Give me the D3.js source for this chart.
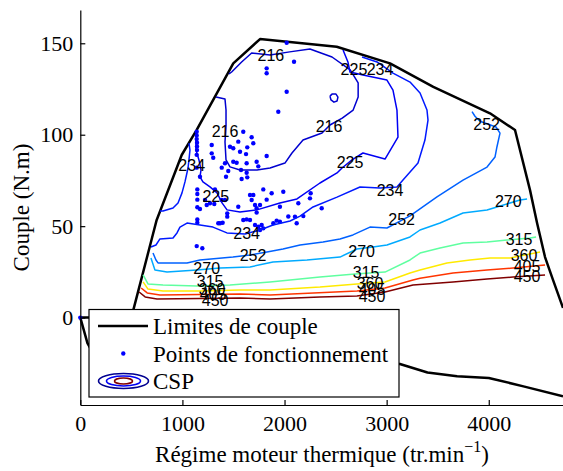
<!DOCTYPE html>
<html>
<head>
<meta charset="utf-8">
<script src="https://cdn.jsdelivr.net/npm/d3@7"></script>
<style>
  html, body { margin: 0; padding: 0; background: #fff; }
  svg { display: block; }
  .axis text { font-family: "Liberation Serif", "Times New Roman", serif; font-size: 22px; fill: #000; }
  .axis path, .axis line { stroke: #000; stroke-width: 1.2; }
</style>
</head>
<body>
<div id="chart"></div>
<script>
// torque limits (rpm, N.m)
const maxTorqueRpm = [0, 500, 702, 748, 993, 1140, 1498, 1760, 2511, 3033, 3457, 4012, 4257, 4404, 4473, 4551, 4629, 4727];
const maxTorqueNm  = [0, 0, 43.5, 53.4, 88.9, 102.6, 139.0, 152.3, 148.1, 139.0, 126.2, 111.7, 102.6, 69.7, 51.7, 33.1, 20.6, 5.3];
const minTorqueRpm = [0, 70, 130, 1000, 2000, 3130, 3400, 3690, 4000, 4340, 4727];
const minTorqueNm  = [0, -14, -20, -21, -23, -25.4, -30, -32.1, -33, -37.6, -43];

// operating points [rpm, N.m]
const operatingPoints = [
  [0,0],
  [2021,150.3],[2093,139.9],[1825,136.3],[1825,133.6],[2021,123.5],[1939,112.6],
  [1140,101.6],[1140,99.6],[1140,97.6],[1143,95.6],[1143,93.6],[1143,91.6],[1140,89.0],[1140,82.0],
  [1287,94.4],[1287,89.8],[1302,87.4],
  [1466,93.4],[1498,92.6],[1547,96.2],[1596,101.6],[1678,98.6],[1635,93.1],[1694,95.3],[1564,90.7],[1623,89.4],[1825,88.4],
  [1498,85.2],[1531,84.7],[1417,84.4],[1629,84.4],[1727,85.2],[1743,82.7],
  [1385,82.0],[1449,80.2],[1574,80.7],[1629,79.2],[1427,77.0],[1580,75.8],[1635,76.7],[1172,77.0],
  [1146,70.1],[1146,67.6],[1146,64.5],[1146,60.3],
  [1221,64.3],[1238,61.6],[1172,59.4],[1270,62.5],[1312,62.1],[1319,70.1],
  [1385,64.3],[1417,64.3],[1547,60.6],
  [1662,67.0],[1694,67.0],[1678,64.3],[1711,61.6],[1727,59.8],[1760,61.6],[1825,64.5],
  [1792,70.1],[1874,68.0],[1988,68.8],[1955,60.6],[1727,57.4],
  [1439,57.0],[1439,55.2],[1629,53.7],[1662,53.4],[1394,51.9],[1368,51.6],[1596,53.4],
  [1923,53.0],[2037,55.3],[2102,55.2],[2184,55.5],
  [1146,53.7],[1146,51.9],
  [2256,68.0],[2249,65.2],[2135,62.5],[2364,59.8],[2119,51.6],
  [1711,50.6],[1743,49.7],[1760,47.9],[1792,48.8],[1776,50.6],[1890,51.6],[1955,52.4],
  [1351,51.6],[1140,39.1],[1195,37.9]
];

// CSP iso-lines (g/kWh), points [rpm, N.m]
const csp216 = [[1456,133.2],[1482,134.3],[1580,139.8],[1678,144.7],[1858,143.6],[2050,145.3],[2249,146.9],[2465,142.5],[2643,135.4],[2721,128.3],[2721,120.6],[2672,113.5],[2565,109.1],[2445,105.3],[2367,100.9],[2181,97.1],[2073,90.0],[2004,84.5],[1858,81.8],[1730,80.7],[1564,80.7],[1466,82.4],[1427,86.2],[1417,96.0],[1427,105.3],[1427,113.5],[1417,119.5],[1329,120.6]];
const csp216b = [[2445,121.1],[2465,122.2],[2504,122.2],[2523,120.6],[2514,118.4],[2484,117.8],[2455,119.0],[2445,121.1]];
const csp225 = [[2573,146.3],[2621,139.8],[2641,134.3],[2768,132.6],[3003,129.9],[3062,124.4],[3101,113.5],[3111,98.7],[2984,86.7],[2768,90.0],[2661,86.2],[2563,81.8],[2514,79.1],[2347,73.6],[2122,64.9],[1955,62.7],[1730,58.9],[1564,57.8],[1437,58.9],[1388,62.7],[1339,68.2],[1270,71.5],[1201,74.2],[1172,76.9],[1182,80.7],[1162,86.2],[1133,91.6],[1133,97.1],[1143,102.0]];
const csp234 = [[692,38.6],[741,39.7],[780,43.0],[908,43.5],[947,46.3],[976,49.5],[1045,51.7],[1172,50.6],[1299,49.5],[1436,46.3],[1613,45.7],[1760,47.9],[1887,50.6],[2054,52.8],[2152,55.5],[2279,60.5],[2514,65.9],[2739,71.4],[2935,70.9],[3101,71.4],[3160,75.2],[3307,84.5],[3375,97.1],[3405,108.0],[3395,113.5],[3327,122.8],[3229,128.8],[3062,133.7],[2906,139.8],[2759,142.5]];
const csp234b = [[780,58.3],[810,58.3],[908,59.9],[957,62.7],[996,68.2],[1025,74.2],[1055,81.8],[1064,86.2],[1074,91.6],[1064,95.4]];
const csp252 = [[712,35.3],[741,31.5],[761,29.9],[1045,29.9],[1172,31.5],[1495,33.1],[1662,34.2],[1828,35.9],[1985,37.5],[2152,39.7],[2377,41.3],[2543,43.0],[2670,45.2],[2837,49.5],[3003,49.0],[3229,55.6],[3493,66.0],[3748,75.2],[3983,82.3],[4061,87.8],[4080,93.3],[4110,100.9],[4071,104.2],[3914,107.4],[3865,110.1],[3836,112.6]];
const csp270 = [[692,32.6],[731,26.0],[849,24.9],[1143,26.0],[1368,27.1],[1662,27.7],[1887,30.4],[2220,31.5],[2543,33.1],[2709,37.5],[2866,38.6],[3003,39.7],[3229,44.1],[3327,47.9],[3523,51.7],[3748,57.2],[3983,58.8],[4080,60.5],[4306,64.3],[4375,64.8]];
const csp315 = [[615,23.3],[663,18.4],[810,17.8],[1143,17.3],[1466,17.8],[1858,19.5],[2347,22.2],[2690,23.8],[2984,24.9],[3229,31.5],[3327,35.3],[3523,38.1],[3748,40.8],[3983,41.3],[4179,42.4],[4404,43.5],[4463,44.1]];
const csp360 = [[615,19.5],[663,15.6],[810,14.5],[1172,14.5],[1564,15.1],[1858,15.1],[2347,16.7],[2709,18.4],[2984,19.5],[3229,24.4],[3327,26.0],[3591,29.9],[3816,31.5],[4012,32.6],[4208,32.6],[4502,35.9]];
const csp405 = [[596,16.2],[655,13.5],[780,12.4],[1564,12.9],[1858,12.4],[2709,14.5],[2984,16.2],[3258,20.6],[3327,21.5],[3650,24.4],[3983,26.0],[4238,27.1],[4551,28.8]];
const csp450 = [[576,14.0],[635,11.3],[751,10.2],[1172,10.4],[1564,10.7],[1858,10.2],[2347,11.3],[2709,11.8],[2984,14.0],[3258,17.8],[3650,19.5],[3983,21.1],[4238,22.2],[4551,23.3]];

const cspLines = [
  {level: 216, pts: csp216}, {level: 216, pts: csp216b},
  {level: 225, pts: csp225},
  {level: 234, pts: csp234}, {level: 234, pts: csp234b},
  {level: 252, pts: csp252}, {level: 270, pts: csp270},
  {level: 315, pts: csp315}, {level: 360, pts: csp360},
  {level: 405, pts: csp405}, {level: 450, pts: csp450}
];

// contour labels
const labelLevel = [216, 216, 216, 225, 234, 225, 225, 234, 234, 234, 252, 252, 252, 270, 270, 270, 315, 360, 405, 450, 315, 360, 405, 450, 315, 360, 405, 450];
const labelRpm   = [1866, 1417, 2436, 2680, 2935, 2641, 1327, 1091, 3033, 1629, 1691, 3147, 3979, 1238, 2755, 4191, 1271, 1290, 1300, 1320, 2798, 2837, 2857, 2857, 4296, 4345, 4375, 4375];
const labelNm    = [143.5, 101.6, 104.4, 135.4, 135.4, 84.7, 66.1, 83.4, 69.4, 46.0, 34.2, 53.7, 105.7, 27.0, 36.0, 63.4, 19.5, 15.6, 12.4, 9.6, 24.4, 18.9, 15.1, 11.8, 42.9, 34.2, 27.7, 22.2];

const xTicks = [0, 1000, 2000, 3000, 4000];
const yTicks = [0, 50, 100, 150];

const W = 563, H = 471;

const svg = d3.select("#chart").append("svg")
  .attr("width", W)
  .attr("height", H);

const x = d3.scaleLinear().domain([0, 4727]).range([80.3, 563]);
const y = d3.scaleLinear().domain([-47.8, 168.2]).range([405, 10]);

// matlab jet colormap
function jet(v) {
  const t = (v - 196) / (450 - 196);
  const c = a => Math.max(0, Math.min(1, a));
  const r = c(Math.min(4 * t - 1.5, -4 * t + 4.5));
  const g = c(Math.min(4 * t - 0.5, -4 * t + 3.5));
  const b = c(Math.min(4 * t + 0.5, -4 * t + 2.5));
  return d3.rgb(r * 255, g * 255, b * 255).formatHex();
}

const line = d3.line().x(d => x(d[0])).y(d => y(d[1]));

// limits
svg.append("path")
  .datum(d3.zip(maxTorqueRpm, maxTorqueNm))
  .attr("fill", "none").attr("stroke", "#000").attr("stroke-width", 2.5)
  .attr("stroke-linejoin", "round")
  .attr("d", line);
svg.append("path")
  .datum(d3.zip(minTorqueRpm, minTorqueNm))
  .attr("fill", "none").attr("stroke", "#000").attr("stroke-width", 2.5)
  .attr("stroke-linejoin", "round")
  .attr("d", line);

// points
svg.append("g").selectAll("circle")
  .data(operatingPoints)
  .join("circle")
  .attr("cx", d => x(d[0]))
  .attr("cy", d => y(d[1]))
  .attr("r", 2.2)
  .attr("fill", "#0000ff");

// contours
svg.append("g").selectAll("path")
  .data(cspLines)
  .join("path")
  .attr("fill", "none")
  .attr("stroke", d => jet(d.level))
  .attr("stroke-width", 1.5)
  .attr("stroke-linejoin", "round")
  .attr("d", d => line(d.pts));

// contour labels
svg.append("g").selectAll("text")
  .data(labelLevel.map((l, i) => ({l, rpm: labelRpm[i], nm: labelNm[i]})))
  .join("text")
  .attr("x", d => x(d.rpm))
  .attr("y", d => y(d.nm))
  .attr("text-anchor", "middle")
  .attr("dominant-baseline", "central")
  .attr("font-family", "'Liberation Sans', Arial, sans-serif")
  .attr("font-size", 16)
  .attr("fill", "#000")
  .text(d => d.l);

// axes
svg.append("g")
  .attr("class", "axis")
  .attr("transform", `translate(0,405)`)
  .call(d3.axisBottom(x).tickValues(xTicks).tickFormat(d3.format("d"))
    .tickSizeInner(-5).tickSizeOuter(0).tickPadding(10));

svg.append("g")
  .attr("class", "axis")
  .attr("transform", `translate(80.3,0)`)
  .call(d3.axisLeft(y).tickValues(yTicks).tickFormat(d3.format("d"))
    .tickSizeInner(-5).tickSizeOuter(0).tickPadding(7));

// axis titles
const xt = svg.append("text")
  .attr("x", 322).attr("y", 462)
  .attr("text-anchor", "middle")
  .attr("font-family", "'Liberation Serif', 'Times New Roman', serif")
  .attr("font-size", 23);
xt.append("tspan").text("Régime moteur thermique (tr.min");
xt.append("tspan").attr("dy", -10).attr("font-size", 16).text("\u22121");
xt.append("tspan").attr("dy", 10).text(")");

svg.append("text")
  .attr("transform", "translate(29,207.5) rotate(-90)")
  .attr("text-anchor", "middle")
  .attr("font-family", "'Liberation Serif', 'Times New Roman', serif")
  .attr("font-size", 23)
  .text("Couple (N.m)");

// legend
const lg = svg.append("g");
lg.append("rect")
  .attr("x", 89).attr("y", 309.5).attr("width", 310).attr("height", 87.5)
  .attr("fill", "#fff").attr("stroke", "#000").attr("stroke-width", 1.2);

const legendItems = ["Limites de couple", "Points de fonctionnement", "CSP"];
const legendY = [326, 353.5, 381];

lg.append("line")
  .attr("x1", 98).attr("x2", 148).attr("y1", legendY[0]).attr("y2", legendY[0])
  .attr("stroke", "#000").attr("stroke-width", 2.5);
lg.append("circle")
  .attr("cx", 123.3).attr("cy", legendY[1]).attr("r", 2.2).attr("fill", "#0000ff");
[[25, 7.5, 200], [17, 5, 225], [9, 3, 450]].forEach(e => {
  lg.append("ellipse")
    .attr("cx", 123.5).attr("cy", legendY[2]).attr("rx", e[0]).attr("ry", e[1])
    .attr("fill", "none").attr("stroke", jet(e[2])).attr("stroke-width", 1.6);
});

lg.selectAll("text.lt")
  .data(legendItems)
  .join("text")
  .attr("class", "lt")
  .attr("x", 153)
  .attr("y", (d, i) => legendY[i] + 8)
  .attr("font-family", "'Liberation Serif', 'Times New Roman', serif")
  .attr("font-size", 23)
  .attr("fill", "#000")
  .text(d => d);
</script>
</body>
</html>
